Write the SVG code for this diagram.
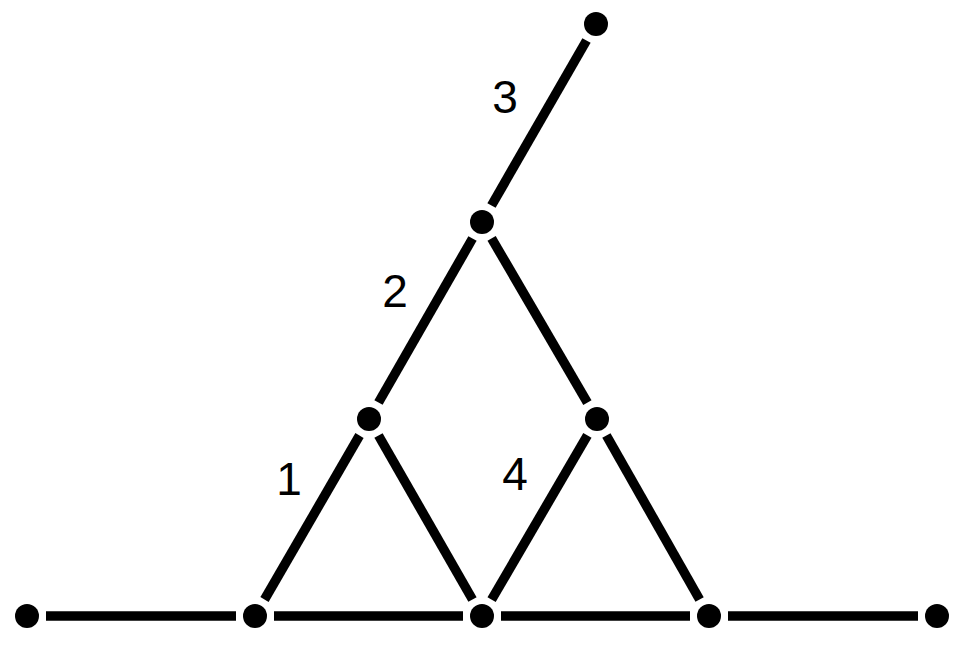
<svg xmlns="http://www.w3.org/2000/svg" width="961" height="649" viewBox="0 0 961 649">
<style>
.e{stroke:#000;stroke-width:9.5;stroke-linecap:butt;fill:none}
.n{fill:#000}
.l{font-family:"Liberation Sans",Arial,sans-serif;font-size:46px;fill:#000;text-anchor:middle}
</style>
<rect width="961" height="649" fill="#fff"/>
<g id="connectors">
<line class="e" x1="46" y1="616" x2="236" y2="616"/>
<line class="e" x1="274" y1="616" x2="463" y2="616"/>
<line class="e" x1="501" y1="616" x2="690" y2="616"/>
<line class="e" x1="728" y1="616" x2="918" y2="616"/>
<line class="e" x1="264.5" y1="599.5" x2="359.5" y2="435.5"/>
<line class="e" x1="378.5" y1="435.5" x2="472.5" y2="599.5"/>
<line class="e" x1="491.6" y1="599.6" x2="587.4" y2="435.4"/>
<line class="e" x1="606.4" y1="435.5" x2="699.6" y2="599.5"/>
<line class="e" x1="378.5" y1="402.5" x2="472.5" y2="238.5"/>
<line class="e" x1="491.6" y1="238.4" x2="587.4" y2="402.6"/>
<line class="e" x1="491.5" y1="205.5" x2="586.5" y2="40.5"/>
</g>
<g id="nA"><circle class="n" cx="27" cy="616" r="12"/></g>
<g id="nB"><circle class="n" cx="255" cy="616" r="12"/></g>
<g id="nC"><circle class="n" cx="482" cy="616" r="12"/></g>
<g id="nD"><circle class="n" cx="709" cy="616" r="12"/></g>
<g id="nE"><circle class="n" cx="937" cy="616" r="12"/></g>
<g id="nF"><circle class="n" cx="369" cy="419" r="12"/></g>
<g id="nG"><circle class="n" cx="597" cy="419" r="12"/></g>
<g id="nH"><circle class="n" cx="482" cy="222" r="12"/></g>
<g id="nI"><circle class="n" cx="596" cy="24" r="12"/></g>
<g id="labels">
<text class="l" x="289" y="495">1</text>
<text class="l" x="395" y="307">2</text>
<text class="l" x="505" y="113">3</text>
<text class="l" x="515" y="490">4</text>
</g>
</svg>
